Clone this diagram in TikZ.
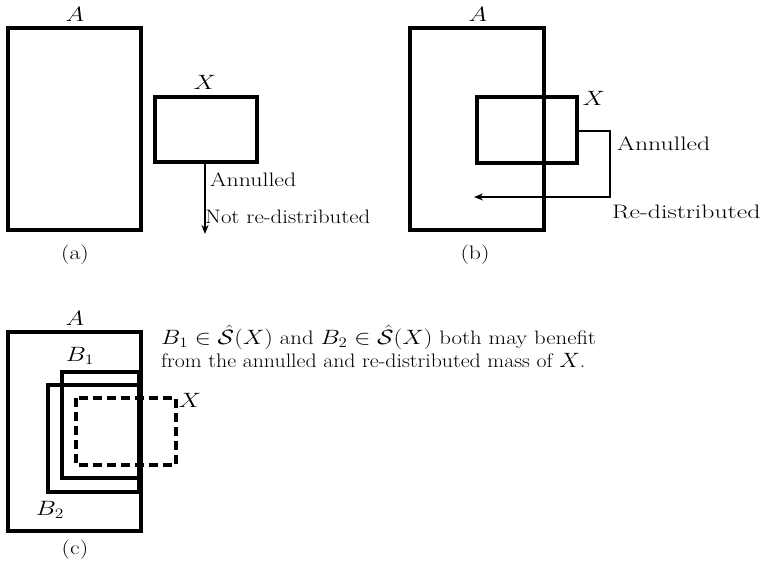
\documentclass[tikz,border=0pt]{standalone}
\usepackage{graphicx}
\usetikzlibrary{arrows.meta}
\newcommand{\sx}[1]{\scalebox{1.22}[1]{#1}}
\newcommand{\sxb}[1]{\scalebox{1.32}[1]{#1}}
\begin{document}
\begin{tikzpicture}[x=1pt,y=-1pt,
  box/.style={draw,line width=3.5pt},
  dbox/.style={draw,line width=3.2pt,dash pattern=on 9pt off 5pt},
  conn/.style={line width=1.6pt},
  arr/.style={conn,-{Stealth[length=9pt,width=7pt]}},
  lbl/.style={inner sep=0pt,font=\fontsize{19.5}{23}\selectfont},
  every node/.style={lbl}]
\useasboundingbox (0,0) rectangle (764,572);
% (a)
\draw[box] (8,28) rectangle (141,230);
\node (Aa) at (75,14) {\sx{$A$}};
\draw[box] (155,97) rectangle (257,162);
\coordinate (Xa) at (205,162);
\coordinate (Xaend) at (205,234);
\node (Xal) at (205,82) {\sx{$X$}};
\draw[arr] (Xa) -- (Xaend);
\node[anchor=west] (ann1) at (210,180) {\sx{Annulled}};
\node[anchor=west] (nrd) at (205,217) {\scalebox{1.17}[1]{Not re-distributed}};
\node (capa) at (75,255) {\sx{(a)}};
% (b)
\draw[box] (410,28) rectangle (544,230);
\node (Ab) at (478,14) {\sx{$A$}};
\draw[box] (477,97) rectangle (577,163);
\node (Xbl) at (594,98) {\sx{$X$}};
\coordinate (Xbr) at (579,131);
\coordinate (c1) at (610,131);
\coordinate (c2) at (610,197);
\coordinate (tip) at (474,197);
\draw[arr] (Xbr) -- (c1) -- (c2) -- (tip);
\node[anchor=west] (ann2) at (617,144) {\sxb{Annulled}};
\node[anchor=west] (rd) at (612,212) {\sxb{Re-distributed}};
\node (capb) at (475,255) {\sx{(b)}};
% (c)
\draw[box] (8,332) rectangle (141,531);
\node (Ac) at (75,318) {\sx{$A$}};
\draw[box] (62,372) rectangle (139,478);
\draw[box] (48,385) rectangle (139,492);
\draw[dbox] (76,398) rectangle (176,465);
\node (B1) at (80,356) {\sx{$B_1$}};
\node (B2) at (50,510) {\sx{$B_2$}};
\node (Xc) at (190,400) {\sx{$X$}};
\node (capc) at (75,550) {\sx{(c)}};
\node[anchor=north west,align=left] (txt) at (161,325)
  {\scalebox{1.17}[1]{$B_1\in\hat{\mathcal{S}}(X)$ and $B_2\in\hat{\mathcal{S}}(X)$ both may benefit}\\
   \scalebox{1.12}[1]{from the annulled and re-distributed mass of $X$.}};
\end{tikzpicture}
\end{document}
